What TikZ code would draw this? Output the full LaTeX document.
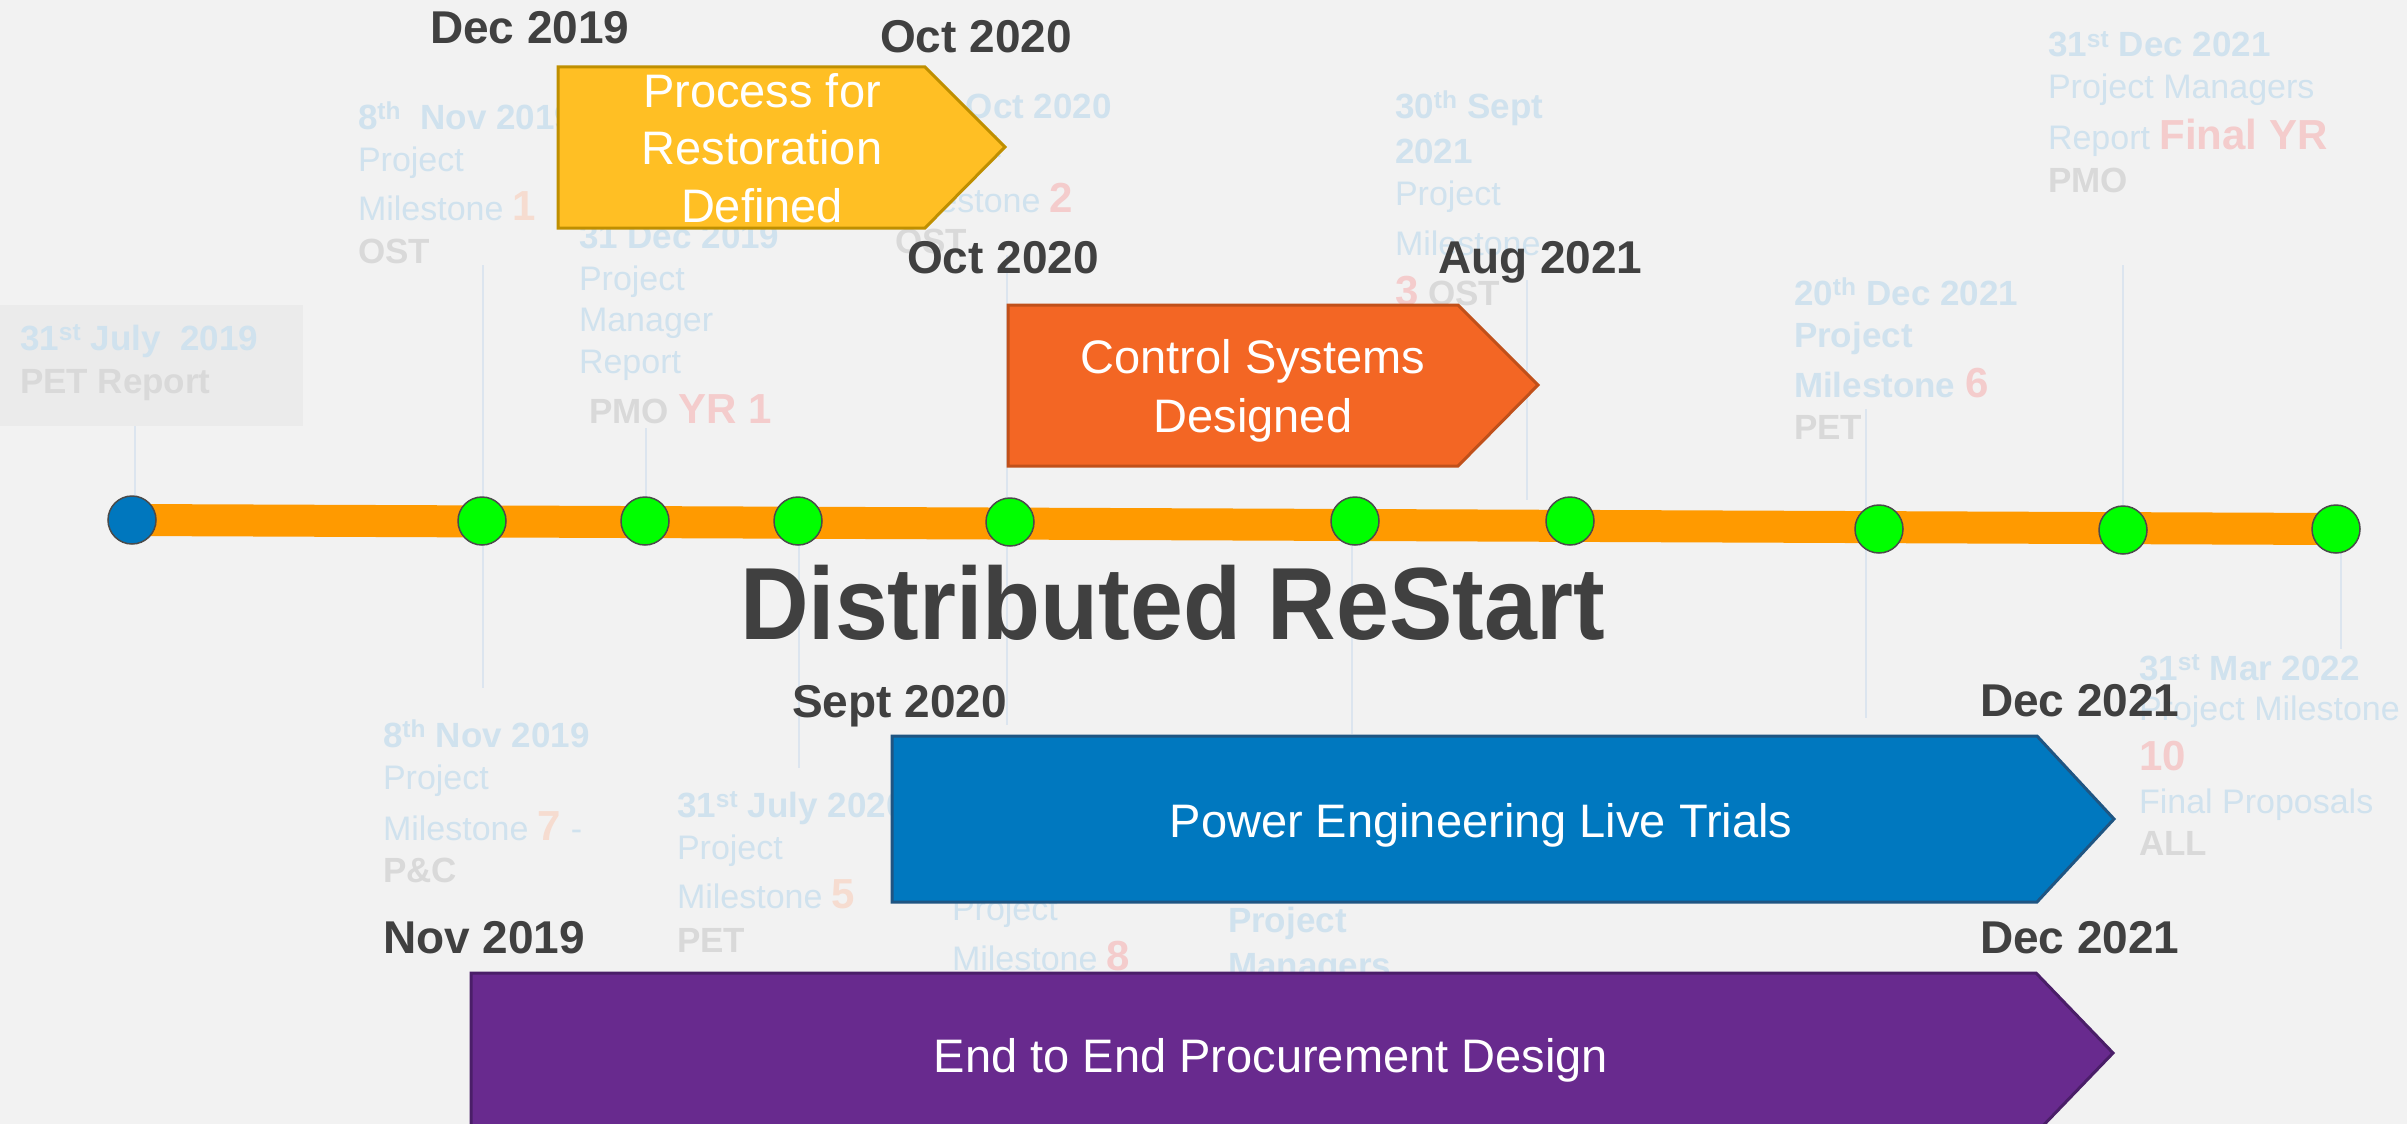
\documentclass[tikz,border=0pt]{standalone}
\usepackage{fontspec}
\setmainfont{Liberation Sans}
\usetikzlibrary{backgrounds}
\definecolor{bg}{HTML}{F2F2F2}
\definecolor{fblue}{HTML}{D0E2EE}
\definecolor{fgray}{HTML}{D9D9D9}
\definecolor{fpink}{HTML}{F4CCCC}
\definecolor{fpeach}{HTML}{F6DCD0}
\definecolor{dark}{HTML}{404040}
\definecolor{guide}{HTML}{DCE5EF}
\definecolor{boxgray}{HTML}{EBEBEB}
\definecolor{barorange}{HTML}{FF9A00}
\definecolor{dotgreen}{HTML}{00FF00}
\definecolor{dotblue}{HTML}{0077BE}
\definecolor{yfill}{HTML}{FFBF24}
\definecolor{ydraw}{HTML}{BF8F00}
\definecolor{ofill}{HTML}{F36624}
\definecolor{odraw}{HTML}{C0501A}
\definecolor{bfill}{HTML}{0078BF}
\definecolor{bdraw}{HTML}{1F5582}
\definecolor{pfill}{HTML}{682A8E}
\definecolor{pdraw}{HTML}{4A1E68}
\newcommand\numpink[1]{{\color{fpink}\fontsize{42}{42}\selectfont\bfseries #1}}
\newcommand\numpeach[1]{{\color{fpeach}\fontsize{42}{42}\selectfont\bfseries #1}}
\begin{document}
\begin{tikzpicture}[x=1pt,y=-1pt,
  lbl/.style={anchor=base west, inner sep=0pt, outer sep=0pt},
  fr/.style={lbl, text=fblue, font=\fontsize{34}{34}\selectfont},
  fb/.style={lbl, text=fblue, font=\fontsize{35}{35}\selectfont\bfseries},
  fg/.style={lbl, text=fgray, font=\fontsize{35}{35}\selectfont\bfseries},
  datelbl/.style={lbl, text=dark, font=\fontsize{46}{46}\selectfont\bfseries},
  arrowtxt/.style={anchor=base, inner sep=0pt, text=white, font=\fontsize{47}{47}\selectfont},
  guideline/.style={draw=guide, line width=2pt},
  dot/.style={circle, minimum size=48pt, inner sep=0pt, draw=dark!95, line width=1.5pt, fill=dotgreen},
  phase/.style={line width=3pt, line join=miter}
]
\useasboundingbox (0,0) rectangle (2407,1124);
\clip (0,0) rectangle (2407,1124);

% milestone dots on the timeline
\node[dot, fill=dotblue] (m0) at (132,520) {};
\node[dot] (m1) at (482,521) {};
\node[dot] (m2) at (645,521) {};
\node[dot] (m3) at (798,521) {};
\node[dot] (m4) at (1010,522) {};
\node[dot] (m5) at (1355,521) {};
\node[dot] (m6) at (1570,521) {};
\node[dot] (m7) at (1879,529) {};
\node[dot] (m8) at (2123,530) {};
\node[dot] (m9) at (2336,529) {};

% end points of the thin guide lines
\coordinate (g0) at (135,426);
\coordinate (g1a) at (483,265);
\coordinate (g1b) at (483,688);
\coordinate (g2) at (646,428);
\coordinate (g3) at (799,768);
\coordinate (g4a) at (1007,255);
\coordinate (g4b) at (1007,725);
\coordinate (g5) at (1352,734);
\coordinate (g6a) at (1527,280);
\coordinate (g6b) at (1527,500);
\coordinate (g7a) at (1866,409);
\coordinate (g7b) at (1866,718);
\coordinate (g8) at (2123,265);
\coordinate (g9) at (2341,649);

\begin{scope}[on background layer]
  \fill[bg] (0,0) rectangle (2407,1124);
  \fill[boxgray] (0,305) rectangle (303,426);
  % guide lines, straight down to the dots
  \draw[guideline] (g0) -- (g0 |- m0.center);
  \draw[guideline] (g1a) -- (g1b);
  \draw[guideline] (g2) -- (g2 |- m2.center);
  \draw[guideline] (g3 |- m3.center) -- (g3);
  \draw[guideline] (g4a) -- (g4b);
  \draw[guideline] (g5 |- m5.center) -- (g5);
  \draw[guideline] (g6a) -- (g6b);
  \draw[guideline] (g7a) -- (g7b);
  \draw[guideline] (g8) -- (g8 |- m8.center);
  \draw[guideline] (g9 |- m9.center) -- (g9);
  % timeline bar
  \draw[barorange, line width=32pt] (m0.center) -- (m9.center);
\end{scope}

% faded milestone notes, upper row
\node[fb] (n1) at (20,350) {31\textsuperscript{st} July\ \ 2019};
\node[fg] (n2) at (20,393) {PET Report};

\node[fb] (a1) at (358,129) {8\textsuperscript{th}\ \ Nov 2019};
\node[fr] (a2) at (358,171) {Project};
\node[fr] (a3) at (358,220) {Milestone \numpeach{1}};
\node[fg] (a4) at (358,263) {OST};

\node[fb] (b1) at (579,248) {31 Dec 2019};
\node[fr] (b2) at (579,290) {Project};
\node[fr] (b3) at (579,331) {Manager};
\node[fr] (b4) at (579,373) {Report};
\node[fg] (b5) at (589,423) {PMO \numpink{YR 1}};

\node[fb] (c1) at (895,118) {31\textsuperscript{st} Oct 2020};
\node[fr] (c2) at (895,157) {Project};
\node[fr] (c3) at (895,212) {Milestone \numpink{2}};
\node[fg] (c4) at (895,253) {OST};

\node[fb] (d1) at (1395,118) {30\textsuperscript{th} Sept};
\node[fb] (d2) at (1395,163) {2021};
\node[fr] (d3) at (1395,205) {Project};
\node[fr] (d4) at (1395,255) {Milestone};
\node[fg] (d5) at (1395,305) {\numpink{3} OST};

\node[fb] (e1) at (1794,305) {20\textsuperscript{th} Dec 2021};
\node[fb] (e2) at (1794,347) {Project};
\node[fb] (e3) at (1794,397) {Milestone \numpink{6}};
\node[fg] (e4) at (1794,439) {PET};

\node[fb] (f1) at (2048,57) {31\textsuperscript{st} Dec 2021};
\node[fr] (f2) at (2048,99) {Project Managers};
\node[fr] (f3) at (2048,149) {Report \numpink{Final YR}};
\node[fg] (f4) at (2048,192) {PMO};

% faded milestone notes, lower row
\node[fb] (h1) at (383,747) {8\textsuperscript{th} Nov 2019};
\node[fr] (h2) at (383,789) {Project};
\node[fr] (h3) at (383,840) {Milestone \numpeach{7} -};
\node[fg] (h4) at (383,882) {P\&C};

\node[fb] (i1) at (677,817) {31\textsuperscript{st} July 2020};
\node[fr] (i2) at (677,859) {Project};
\node[fr] (i3) at (677,908) {Milestone \numpeach{5}};
\node[fg] (i4) at (677,952) {PET};

\node[fr] (j1) at (952,920) {Project};
\node[fr] (j2) at (952,970) {Milestone \numpink{8}};

\node[fb] (k1) at (1228,932) {Project};
\node[fb] (k2) at (1228,977) {Managers};

\node[fb] (l1) at (2139,680) {31\textsuperscript{st} Mar 2022};
\node[fr] (l2) at (2139,720) {Project Milestone};
\node[lbl] (l3) at (2139,770) {\numpink{10}};
\node[fr] (l4) at (2139,813) {Final Proposals};
\node[fg] (l5) at (2139,855) {ALL};

% title
\node[lbl, text=dark, font=\fontsize{95}{95}\selectfont\bfseries] (title) at (740,639) {\scalebox{1}[1.08]{Distributed ReStart}};

% work-stream arrows
\filldraw[phase, fill=yfill, draw=ydraw] (558,67) -- (925,67) -- (1005,147) -- (925,228) -- (558,228) -- cycle;
\node[arrowtxt] (y1) at (762,107) {Process for};
\node[arrowtxt] (y2) at (762,164) {Restoration};
\node[arrowtxt] (y3) at (762,222) {Defined};

\filldraw[phase, fill=ofill, draw=odraw] (1008,305) -- (1458,305) -- (1538,385) -- (1458,466) -- (1008,466) -- cycle;
\node[arrowtxt] (o1) at (1253,373) {Control Systems};
\node[arrowtxt] (o2) at (1253,432) {Designed};

\filldraw[phase, fill=bfill, draw=bdraw] (892,736) -- (2037,736) -- (2114,819) -- (2037,902) -- (892,902) -- cycle;
\node[arrowtxt] (p1) at (1481,837) {Power Engineering Live Trials};

\filldraw[phase, fill=pfill, draw=pdraw] (471,973) -- (2036,973) -- (2113,1053) -- (2036,1133) -- (471,1133) -- cycle;
\node[arrowtxt] (q1) at (1271,1072) {End to End Procurement Design};

% start and end dates of the work streams
\node[datelbl] (s1) at (430,44) {Dec 2019};
\node[datelbl] (s2) at (880,53) {Oct 2020};
\node[datelbl] (s3) at (907,273) {Oct 2020};
\node[datelbl] (s4) at (1438,273) {Aug 2021};
\node[datelbl] (s5) at (792,717) {Sept 2020};
\node[datelbl] (s6) at (1980,716) {Dec 2021};
\node[datelbl] (s7) at (383,953) {Nov 2019};
\node[datelbl] (s8) at (1980,953) {Dec 2021};
\end{tikzpicture}
\end{document}
